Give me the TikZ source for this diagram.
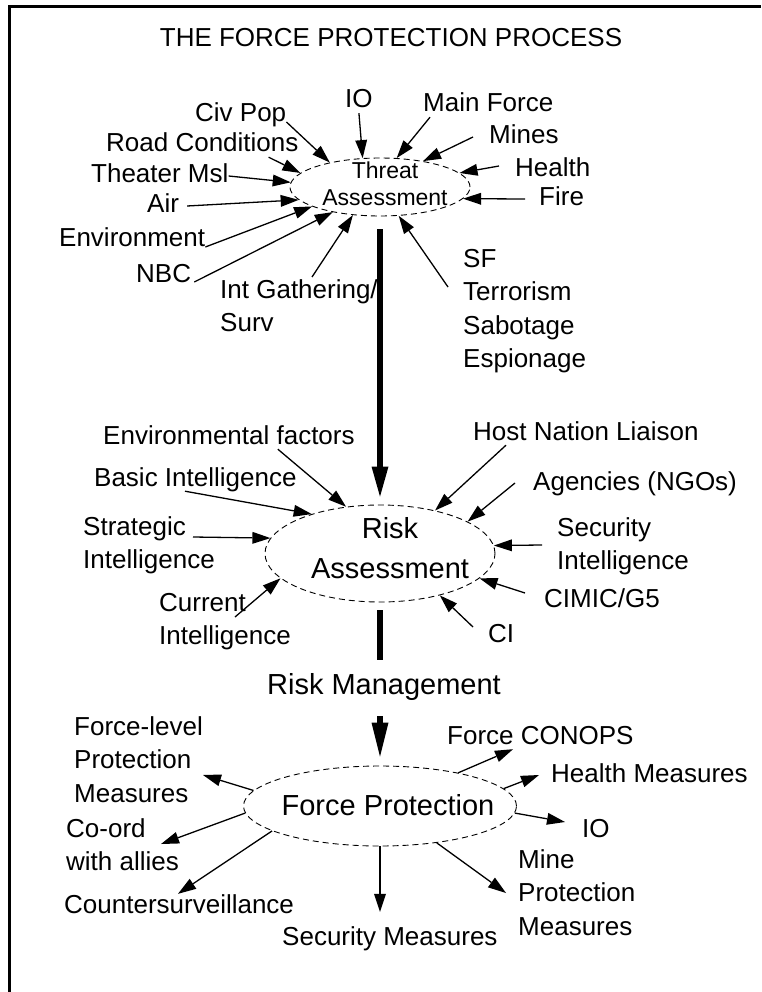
\documentclass[tikz,border=0pt]{standalone}
\usepackage{fontspec}
\setmainfont{Liberation Sans}
\usepackage{tikz}
\usetikzlibrary{positioning}
\usetikzlibrary{shapes.geometric}
\usetikzlibrary{arrows.meta}

\tikzset{
lbl/.style={font=\fontsize{26}{33.5}\selectfont, inner sep=0pt, text height=19pt, text depth=5pt, anchor=base west},
lblm/.style={font=\fontsize{26}{33.5}\selectfont, inner sep=0pt, align=left, anchor=north west},
oval/.style={ellipse, draw, dash pattern=on 6pt off 4pt, line width=0.9pt, inner sep=0pt},
arr/.style={line width=1.3pt, -{Triangle[length=18pt,width=12pt,line width=0pt]}},
bigarr/.style={line width=6pt, -{Triangle[length=30pt,width=17pt,line width=0pt]}},
}

\begin{document}
\begin{tikzpicture}[x=1pt, y=-1pt]

\useasboundingbox (0,0) rectangle (761,992);
\draw[line width=3pt] (9.5,992) -- (9.5,6.5) -- (761,6.5);

\node[lbl, anchor=base] (title) at (391,47) {THE FORCE PROTECTION PROCESS};

\begin{scope}{
\node[oval, minimum width=180pt, minimum height=58pt] (threat) at (380,187) {};
\node[font=\fontsize{23}{27}\selectfont, inner sep=0pt, anchor=base] (threat1) at (385,179) {Threat};
\node[font=\fontsize{23}{27}\selectfont, inner sep=0pt, anchor=base] (threat2) at (385,206) {Assessment};

\node[lbl] (civpop) at (195,122) {Civ Pop};
\node[lbl] (io1) at (345,108) {IO};
\node[lbl] (mainf) at (423,112) {Main Force};
\node[lbl] (road) at (106,152) {Road Conditions};
\node[lbl] (mines) at (489,144) {Mines};
\node[lbl] (theater) at (91,183) {Theater Msl};
\node[lbl] (health) at (515,177) {Health};
\node[lbl] (air) at (147,213) {Air};
\node[lbl] (fire) at (539,206) {Fire};
\node[lbl] (envt) at (59,247) {Environment};
\node[lbl] (nbc) at (136,282) {NBC};
\node[lblm] (intg) at (220,279) {Int Gathering/\\Surv};
\node[lblm] (sf) at (463,249) {SF\\Terrorism\\Sabotage\\Espionage};

\draw[arr] (civpop.base east) -- (threat.154);
\draw[arr] (io1.south) -- (threat.121);
\draw[arr] ([xshift=7pt]mainf.south west) -- (threat.60);
\draw[arr] ([xshift=-30pt]road.south east) -- (threat.170);
\draw[arr] ([xshift=-16pt]mines.west) -- (threat.31);
\draw[arr] (theater.east) -- (threat.177);
\draw[arr] ([xshift=-16pt,yshift=4pt]health.west) -- (threat.10);
\draw[arr] ([xshift=8pt]air.east) -- (threat.189);
\draw[arr] ([xshift=-14pt]fire.west) -- (threat.-8);
\draw[arr] (envt.base east) -- (threat.196);
\draw[arr] ([xshift=3pt]nbc.base east) -- (threat.208);
\draw[arr] ([xshift=92pt,yshift=2pt]intg.north west) -- (threat.226);
\draw[arr] ([xshift=-15pt,yshift=-38pt]sf.north west) -- (threat.-57);
} \end{scope}

\begin{scope}{
\node[oval, minimum width=230pt, minimum height=97pt] (risk) at (380,553.5) {};
\node[font=\fontsize{29}{40}\selectfont, inner sep=0pt, anchor=base] (risk1) at (390,538) {Risk};
\node[font=\fontsize{29}{40}\selectfont, inner sep=0pt, anchor=base] (risk2) at (390,578) {Assessment};

\node[lbl] (envf) at (103,444) {Environmental factors};
\node[lbl] (basic) at (94,486) {Basic Intelligence};
\node[lblm] (strat) at (83,516) {Strategic\\Intelligence};
\node[lblm] (curr) at (159,593) {Current\\Intelligence};
\node[lbl] (host) at (473,440) {Host Nation Liaison};
\node[lbl] (agen) at (533,490) {Agencies (NGOs)};
\node[lblm] (secint) at (557,517) {Security\\Intelligence};
\node[lbl] (cimic) at (544,607) {CIMIC/G5};
\node[lbl] (ci) at (488,642) {CI};

\draw[arr] ([xshift=-77pt]envf.south east) -- (risk.126);
\draw[arr] ([xshift=91pt]basic.south west) -- (risk.150);
\draw[arr] ([xshift=110pt,yshift=-21pt]strat.north west) -- (risk.172);
\draw[arr] ([xshift=76pt,yshift=-24pt]curr.north west) -- (risk.194);
\draw[arr] ([xshift=33pt]host.south west) -- (risk.38);
\draw[arr] ([xshift=-18pt]agen.west) -- (risk.20);
\draw[arr] ([xshift=-15pt,yshift=-28pt]secint.north west) -- (risk.4);
\draw[arr] ([xshift=-19pt,yshift=7pt]cimic.west) -- (risk.-14);
\draw[arr] ([xshift=-15pt,yshift=8pt]ci.west) -- (risk.-35);

\draw[bigarr, shorten <=13pt, shorten >=8pt] (threat.south) -- (risk.north);
} \end{scope}

\node[font=\fontsize{29}{33}\selectfont, inner sep=0pt, text height=21pt, text depth=6pt, anchor=base] (rm) at (384,694) {Risk Management};

\begin{scope}{
\node[oval, minimum width=273pt, minimum height=80pt] (fp) at (380,806) {};
\node[font=\fontsize{29}{33}\selectfont, inner sep=0pt, anchor=base] (fptxt) at (388,815) {Force Protection};

\node[lblm] (fl) at (74,716) {Force-level\\Protection\\Measures};
\node[lblm] (coord) at (66,818) {Co-ord\\with allies};
\node[lbl] (cs) at (64,913) {Countersurveillance};
\node[lbl] (secm) at (282,945) {Security Measures};
\node[lbl] (conops) at (447,744) {Force CONOPS};
\node[lbl] (healthm) at (551,782) {Health Measures};
\node[lbl] (io2) at (582,837) {IO};
\node[lblm] (mine) at (518,849) {Mine\\Protection\\Measures};

\draw[arr] (fp.173) -- ([xshift=129pt,yshift=-59pt]fl.north west);
\draw[arr] (fp.183) -- ([xshift=95pt,yshift=-26pt]coord.north west);
\draw[arr] (fp.193) -- ([xshift=114pt]cs.north west);
\draw[arr, shorten >=14pt] (fp.south) -- (fp.south |- secm.north);
\draw[arr] (fp.23) -- ([xshift=66pt]conops.south west);
\draw[arr] (fp.8) -- ([xshift=-12pt]healthm.west);
\draw[arr] (fp.-3) -- ([xshift=-17pt,yshift=8pt]io2.west);
\draw[arr] (fp.-33) -- ([xshift=-12pt,yshift=-44pt]mine.north west);

\draw[line width=6pt, shorten <=8pt, shorten >=13pt] (risk.south) -- (risk.south |- rm.north);
\draw[bigarr, -{Triangle[length=34pt,width=17pt,line width=0pt]}, shorten <=16pt, shorten >=9pt] (fp.north |- rm.south) -- (fp.north);
} \end{scope}

\end{tikzpicture}
\end{document}
